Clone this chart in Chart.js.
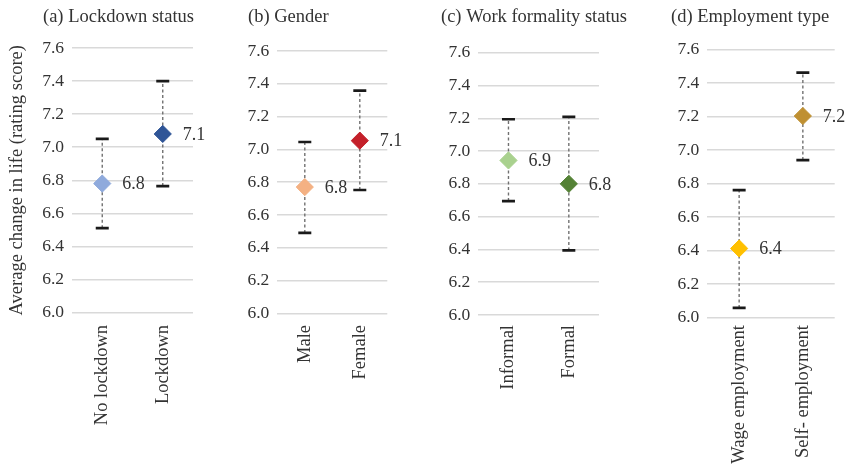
<!DOCTYPE html>
<html>
<head>
<meta charset="utf-8">
<script src="https://cdn.jsdelivr.net/npm/chart.js@4"></script>
<style>
  html, body { margin: 0; padding: 0; background: #ffffff; }
  #wrap { position: relative; width: 847px; height: 467px; overflow: hidden; }
  #wrap canvas { position: absolute; top: 0; }
</style>
</head>
<body>
<div id="wrap">
  <canvas id="panelA"></canvas>
  <canvas id="panelB"></canvas>
  <canvas id="panelC"></canvas>
  <canvas id="panelD"></canvas>
</div>
<script>
// (a) Lockdown status
const lockdownLabels = ['No lockdown', 'Lockdown'];
const lockdownMeans  = [6.78, 7.08];
const lockdownLower  = [6.51, 6.765];
const lockdownUpper  = [7.05, 7.40];

// (b) Gender
const genderLabels = ['Male', 'Female'];
const genderMeans  = [6.77, 7.053];
const genderLower  = [6.49, 6.752];
const genderUpper  = [7.045, 7.358];

// (c) Work formality status
const formalityLabels = ['Informal', 'Formal'];
const formalityMeans  = [6.943, 6.80];
const formalityLower  = [6.695, 6.394];
const formalityUpper  = [7.194, 7.208];

// (d) Employment type
const employmentLabels = ['Wage employment', 'Self- employment'];
const employmentMeans  = [6.413, 7.204];
const employmentLower  = [6.058, 6.941];
const employmentUpper  = [6.761, 7.463];

// Shared value axis
const yMin = 6.0;
const yMax = 7.6;
const yStep = 0.2;

const H = 467;
const FONT = "'Liberation Serif', 'Times New Roman', serif";
const TEXT = '#333333';

// Where each panel sits on the page and the box its plot area occupies
// (canvases are transparent, so neighbouring ones may overlap)
const panels = [
  { canvas: 'panelA', left: 0,   width: 225, area: { left: 72,    right: 193,   top: 48,   bottom: 312.5 },
    title: '(a) Lockdown status', titleX: 43,
    labels: lockdownLabels, means: lockdownMeans, lower: lockdownLower, upper: lockdownUpper,
    colors: ['#8faadc', '#2f5597'], yTitle: 'Average change in life (rating score)' },
  { canvas: 'panelB', left: 215, width: 210, area: { left: 277.3, right: 387.3, top: 51,   bottom: 313.3 },
    title: '(b) Gender', titleX: 248,
    labels: genderLabels, means: genderMeans, lower: genderLower, upper: genderUpper,
    colors: ['#f4b183', '#c4202a'] },
  { canvas: 'panelC', left: 415, width: 232, area: { left: 478.3, right: 599,   top: 52.7, bottom: 315 },
    title: '(c) Work formality status', titleX: 441,
    labels: formalityLabels, means: formalityMeans, lower: formalityLower, upper: formalityUpper,
    colors: ['#a9d18e', '#548235'] },
  { canvas: 'panelD', left: 625, width: 222, area: { left: 707.3, right: 834.7, top: 49.7, bottom: 317.6 },
    title: '(d) Employment type', titleX: 671,
    labels: employmentLabels, means: employmentMeans, lower: employmentLower, upper: employmentUpper,
    colors: ['#ffc000', '#bf9032'] }
];

// Panel heading drawn above the value axis
const panelTitle = {
  id: 'panelTitle',
  afterDraw(chart, args, opts) {
    const ctx = chart.ctx;
    ctx.save();
    ctx.font = opts.font;
    ctx.fillStyle = opts.color;
    ctx.textAlign = 'left';
    ctx.textBaseline = 'middle';
    ctx.fillText(opts.text, opts.x, opts.y);
    ctx.restore();
  }
};

// Rounded mean printed to the right of each diamond
const valueLabels = {
  id: 'valueLabels',
  afterDatasetsDraw(chart, args, opts) {
    const ctx = chart.ctx;
    const meta = chart.getDatasetMeta(0);
    const values = chart.data.datasets[0].data;
    ctx.save();
    ctx.font = opts.font;
    ctx.fillStyle = opts.color;
    ctx.textAlign = 'left';
    ctx.textBaseline = 'middle';
    meta.data.forEach((pt, i) => {
      const txt = (Math.round(values[i] * 10) / 10).toFixed(1);
      ctx.fillText(txt, pt.x + opts.offset, pt.y + 1);
    });
    ctx.restore();
  }
};

panels.forEach(p => {
  const canvas = document.getElementById(p.canvas);
  canvas.width = p.width;
  canvas.height = H;
  canvas.style.left = p.left + 'px';
  canvas.style.width = p.width + 'px';
  canvas.style.height = H + 'px';

  // one dashed whisker with end caps per category
  const whiskers = p.labels.map((lab, i) => ({
    data: [{ x: lab, y: p.lower[i] }, { x: lab, y: p.upper[i] }],
    borderColor: '#707070',
    borderWidth: 1.4,
    borderDash: [3, 2.5],
    pointStyle: 'line',
    pointRadius: 6.5,
    pointBorderWidth: 2.7,
    pointBorderColor: '#1a1a1a',
    order: 2
  }));

  const means = {
    data: p.means,
    showLine: false,
    pointStyle: 'rectRot',
    pointRadius: 8.6,
    pointBackgroundColor: p.colors,
    pointBorderColor: p.colors,
    pointBorderWidth: 1,
    order: 0
  };

  new Chart(canvas, {
    type: 'line',
    data: { labels: p.labels, datasets: [means, ...whiskers] },
    plugins: [panelTitle, valueLabels],
    options: {
      responsive: false,
      animation: false,
      events: [],
      devicePixelRatio: 1,
      layout: {
        autoPadding: false,
        padding: { left: 0, top: p.area.top, right: p.left + p.width - p.area.right, bottom: 0 }
      },
      plugins: {
        legend: { display: false },
        tooltip: { enabled: false },
        panelTitle: { text: p.title, x: p.titleX - p.left, y: 17, font: `18.5px ${FONT}`, color: TEXT },
        valueLabels: { offset: 20, font: `18px ${FONT}`, color: TEXT }
      },
      scales: {
        x: {
          type: 'category',
          offset: true,
          grid: { display: false, drawTicks: false },
          border: { display: false },
          ticks: {
            autoSkip: false,
            minRotation: 90,
            maxRotation: 90,
            padding: 325 - p.area.bottom,
            color: TEXT,
            font: { family: FONT, size: 18.5 }
          },
          afterFit(scale) { scale.height = H - p.area.bottom; }
        },
        y: {
          min: yMin,
          max: yMax,
          grid: { color: '#d9d9d9', lineWidth: 1.5, drawTicks: false },
          border: { display: false },
          ticks: {
            stepSize: yStep,
            padding: 8,
            color: TEXT,
            font: { family: FONT, size: 17.5 },
            callback: v => Number(v).toFixed(1)
          },
          title: {
            display: !!p.yTitle,
            text: p.yTitle || '',
            color: TEXT,
            font: { family: FONT, size: 18.5 },
            padding: { top: 6, bottom: 0 }
          },
          afterFit(scale) { scale.width = p.area.left - p.left; }
        }
      }
    }
  });
});
</script>
</body>
</html>
